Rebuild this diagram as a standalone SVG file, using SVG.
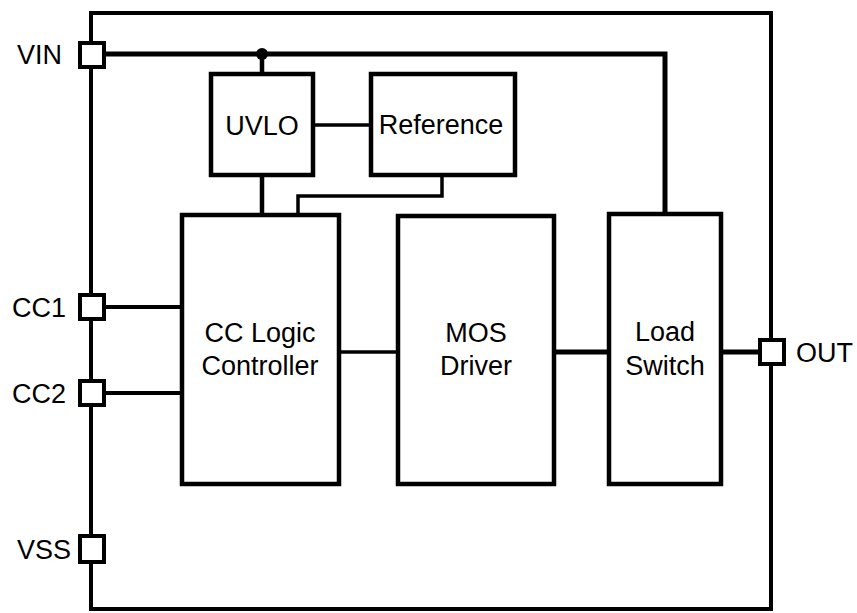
<svg xmlns="http://www.w3.org/2000/svg" width="857" height="613" viewBox="0 0 857 613">
<style>
.blk{fill:#fff;stroke:#000;stroke-width:4.5}
.pin{fill:#fff;stroke:#000;stroke-width:4}
.w{fill:none;stroke:#000;stroke-linecap:square}
.t{font-family:"Liberation Sans",Arial,sans-serif;font-size:27px;fill:#000}
.c{text-anchor:middle}
</style>
<rect width="857" height="613" fill="#fff"/>
<g id="connectors">
<path id="outline" class="w" stroke-width="4" d="M91,13 H771 V609 H91 Z"/>
<path id="vin-bus" class="w" stroke-width="5" d="M104,54 H665 V214"/>
<circle cx="262" cy="54" r="6" fill="#000"/>
<path class="w" stroke-width="4.5" d="M262,54 V74"/>
<path class="w" stroke-width="4.5" d="M262,175 V215"/>
<path class="w" stroke-width="3.5" d="M313,125 H371"/>
<path class="w" stroke-width="3.5" d="M442,175 V196 H298 V215"/>
<path class="w" stroke-width="4" d="M104,307 H182"/>
<path class="w" stroke-width="4" d="M104,393 H182"/>
<path class="w" stroke-width="3.5" d="M339,352 H398"/>
<path class="w" stroke-width="5" d="M554,352 H609"/>
<path class="w" stroke-width="5" d="M721,352 H760"/>
</g>
<g id="UVLO"><rect class="blk" x="211" y="74" width="102" height="101"/><text class="t c" x="262" y="135">UVLO</text></g>
<g id="Reference"><rect class="blk" x="371" y="74" width="144" height="101"/><text class="t c" x="441" y="134">Reference</text></g>
<g id="CCLogic"><rect class="blk" x="182" y="215" width="157" height="269"/><text class="t c" x="260" y="342">CC Logic</text><text class="t c" x="260" y="375">Controller</text></g>
<g id="MOSDriver"><rect class="blk" x="398" y="216" width="156" height="268"/><text class="t c" x="476" y="342">MOS</text><text class="t c" x="476" y="375">Driver</text></g>
<g id="LoadSwitch"><rect class="blk" x="609" y="214" width="112" height="270"/><text class="t c" x="665" y="341">Load</text><text class="t c" x="665" y="375">Switch</text></g>
<g id="pin-VIN"><rect class="pin" x="80" y="43" width="24" height="24"/><text class="t" x="17" y="64">VIN</text></g>
<g id="pin-CC1"><rect class="pin" x="80" y="295" width="24" height="24"/><text class="t" x="12" y="317">CC1</text></g>
<g id="pin-CC2"><rect class="pin" x="80" y="381" width="24" height="24"/><text class="t" x="12" y="403">CC2</text></g>
<g id="pin-VSS"><rect class="pin" x="80" y="536" width="24" height="26"/><text class="t" x="17" y="559">VSS</text></g>
<g id="pin-OUT"><rect class="pin" x="760" y="340" width="24" height="24"/><text class="t" x="796" y="362">OUT</text></g>
</svg>
